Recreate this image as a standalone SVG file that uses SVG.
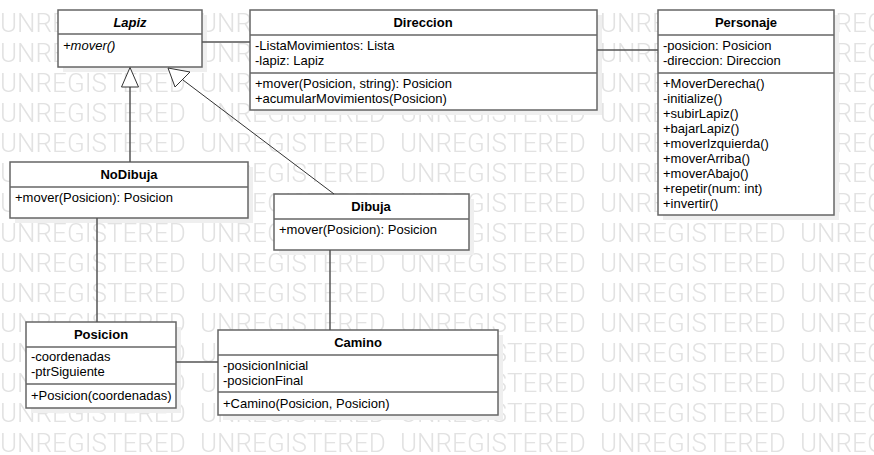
<svg xmlns="http://www.w3.org/2000/svg" width="874" height="455" viewBox="0 0 874 455">
<style>
.wm{font-family:Roboto,"Liberation Sans",sans-serif;font-weight:300;font-size:26px;fill:#e2e2e2}
.box{fill:#fff;stroke:#666;stroke-width:1.5}
.sh{fill:#efefef}
.div{stroke:#666;stroke-width:1.5}
.t{font-family:"Liberation Sans",Arial,sans-serif;font-size:13px;fill:#000}
.h{font-family:"Liberation Sans",Arial,sans-serif;font-size:13px;font-weight:bold;text-anchor:middle;fill:#000}
.i{font-style:italic}
.c{stroke:#555;stroke-width:1.5;fill:none}
.c1{stroke:#333;stroke-width:1;fill:none}
.tri{fill:#fff;stroke:#333;stroke-width:1}
</style>
<defs>
<pattern id="wmp" x="0" y="2" width="200" height="30" patternUnits="userSpaceOnUse">
<text class="wm" x="0" y="30">UNREGISTERED</text>
</pattern>
</defs>
<rect width="874" height="455" fill="#fff"/>
<rect x="0" y="2" width="874" height="453" fill="url(#wmp)"/>

<g id="Lapiz">
<rect class="sh" x="63" y="15" width="144" height="57"/>
<rect class="box" x="58" y="10" width="144" height="57"/>
<line class="div" x1="58" y1="34" x2="202" y2="34"/>
<text class="h i" x="130" y="27">Lapiz</text>
<text class="t i" x="63" y="50">+mover()</text>
</g>

<g id="Direccion">
<rect class="sh" x="255" y="15" width="347" height="100"/>
<rect class="box" x="250" y="10" width="347" height="100"/>
<line class="div" x1="250" y1="35" x2="597" y2="35"/>
<line class="div" x1="250" y1="73" x2="597" y2="73"/>
<text class="h" x="423" y="27">Direccion</text>
<text class="t" x="255" y="50">-ListaMovimientos: Lista</text>
<text class="t" x="255" y="65">-lapiz: Lapiz</text>
<text class="t" x="255" y="88">+mover(Posicion, string): Posicion</text>
<text class="t" x="255" y="103">+acumularMovimientos(Posicion)</text>
</g>

<g id="Personaje">
<rect class="sh" x="663" y="15" width="176" height="205"/>
<rect class="box" x="658" y="10" width="176" height="205"/>
<line class="div" x1="658" y1="35" x2="834" y2="35"/>
<line class="div" x1="658" y1="73" x2="834" y2="73"/>
<text class="h" x="746" y="27">Personaje</text>
<text class="t" x="663" y="50">-posicion: Posicion</text>
<text class="t" x="663" y="65">-direccion: Direccion</text>
<text class="t" x="663" y="88">+MoverDerecha()</text>
<text class="t" x="663" y="103">-initialize()</text>
<text class="t" x="663" y="118">+subirLapiz()</text>
<text class="t" x="663" y="133">+bajarLapiz()</text>
<text class="t" x="663" y="148">+moverIzquierda()</text>
<text class="t" x="663" y="163">+moverArriba()</text>
<text class="t" x="663" y="178">+moverAbajo()</text>
<text class="t" x="663" y="193">+repetir(num: int)</text>
<text class="t" x="663" y="208">+invertir()</text>
</g>

<g id="NoDibuja">
<rect class="sh" x="15" y="167" width="238" height="56"/>
<rect class="box" x="10" y="162" width="238" height="56"/>
<line class="div" x1="10" y1="187" x2="248" y2="187"/>
<text class="h" x="129" y="179">NoDibuja</text>
<text class="t" x="15" y="202">+mover(Posicion): Posicion</text>
</g>

<g id="Dibuja">
<rect class="sh" x="279" y="199" width="195" height="56"/>
<rect class="box" x="274" y="194" width="195" height="56"/>
<line class="div" x1="274" y1="219" x2="469" y2="219"/>
<text class="h" x="371" y="211">Dibuja</text>
<text class="t" x="279" y="234">+mover(Posicion): Posicion</text>
</g>

<g id="Posicion">
<rect class="sh" x="31" y="327" width="150" height="86"/>
<rect class="box" x="26" y="322" width="150" height="86"/>
<line class="div" x1="26" y1="347" x2="176" y2="347"/>
<line class="div" x1="26" y1="384" x2="176" y2="384"/>
<text class="h" x="101" y="339">Posicion</text>
<text class="t" x="31" y="361">-coordenadas</text>
<text class="t" x="31" y="376">-ptrSiguiente</text>
<text class="t" x="31" y="400">+Posicion(coordenadas)</text>
</g>

<g id="Camino">
<rect class="sh" x="223" y="335" width="280" height="85"/>
<rect class="box" x="218" y="330" width="280" height="85"/>
<line class="div" x1="218" y1="355" x2="498" y2="355"/>
<line class="div" x1="218" y1="392" x2="498" y2="392"/>
<text class="h" x="358" y="347">Camino</text>
<text class="t" x="223" y="370">-posicionInicial</text>
<text class="t" x="223" y="385">-posicionFinal</text>
<text class="t" x="223" y="408">+Camino(Posicion, Posicion)</text>
</g>

<g id="connectors">
<line class="c" x1="202" y1="42" x2="250" y2="42"/>
<line class="c" x1="597" y1="50" x2="658" y2="50"/>
<line class="c" x1="130" y1="162" x2="130" y2="87"/>
<polygon class="tri" points="130,67.5 121.5,87 138.5,87"/>
<line class="c1" x1="334" y1="194" x2="183" y2="80"/>
<polygon class="tri" points="168,68 175,87 190,72"/>
<line class="c" x1="97" y1="218" x2="97" y2="322"/>
<line class="c" x1="330" y1="250" x2="330" y2="330"/>
<line class="c" x1="176" y1="362" x2="218" y2="362"/>
</g>
</svg>
